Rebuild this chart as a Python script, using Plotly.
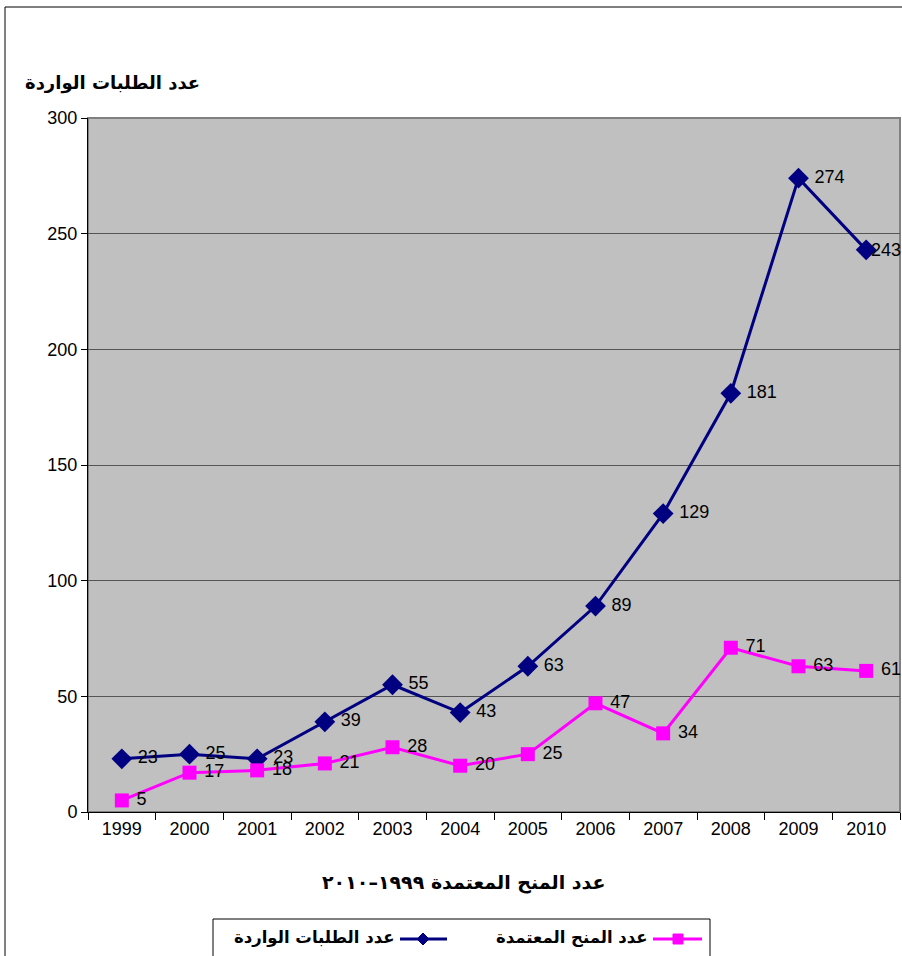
import plotly.graph_objects as go

years = ["1999", "2000", "2001", "2002", "2003", "2004", "2005", "2006", "2007", "2008", "2009", "2010"]
applications = [23, 25, 23, 39, 55, 43, 63, 89, 129, 181, 274, 243]
grants = [5, 17, 18, 21, 28, 20, 25, 47, 34, 71, 63, 61]

name_applications = "عدد الطلبات الواردة"
name_grants = "عدد المنح المعتمدة"
y_title = "عدد الطلبات الواردة"
x_title = "عدد المنح المعتمدة ١٩٩٩–٢٠١٠"

W, H = 902, 956
L, R, T, B = 88, 2, 118, 144
PW, PH = W - L - R, H - T - B

NAVY = "#000080"
PINK = "#FF00FF"
AR_FONT = "DejaVu Sans"
NUM_FONT = "Arial, Liberation Sans, sans-serif"
PAD = "\u00a0"


def px(x):
    return (x - L) / PW


def py(y):
    return (H - B - y) / PH


fig = go.Figure()
fig.add_trace(go.Scatter(
    x=years, y=applications, name=name_applications,
    mode="lines+markers+text",
    text=[PAD + str(v) for v in applications[:-1]] + [""],
    textposition="middle right", cliponaxis=False,
    line=dict(color=NAVY, width=3),
    marker=dict(symbol="diamond", size=16, color=NAVY),
    textfont=dict(family=NUM_FONT, size=18, color="#000000"),
))
fig.add_trace(go.Scatter(
    x=years, y=grants, name=name_grants,
    mode="lines+markers+text", text=[PAD + str(v) for v in grants],
    textposition="middle right", cliponaxis=False,
    line=dict(color=PINK, width=3),
    marker=dict(symbol="square", size=14, color=PINK),
    textfont=dict(family=NUM_FONT, size=18, color="#000000"),
))

shapes = []
# outer chart border
shapes.append(dict(type="rect", xref="paper", yref="paper",
                   x0=px(5), x1=px(W + 20), y0=py(7), y1=py(H + 20),
                   line=dict(color="#000000", width=1), layer="below"))
# plot area border (gray top/right)
shapes.append(dict(type="rect", xref="paper", yref="paper",
                   x0=0, x1=1, y0=0, y1=1,
                   line=dict(color="#808080", width=2), layer="below"))
# legend box
shapes.append(dict(type="rect", xref="paper", yref="paper",
                   x0=px(213), x1=px(710), y0=py(919), y1=py(H + 20),
                   line=dict(color="#000000", width=1), fillcolor="#FFFFFF"))
# legend lines
shapes.append(dict(type="line", xref="paper", yref="paper",
                   x0=px(400), x1=px(447), y0=py(939), y1=py(939),
                   line=dict(color=NAVY, width=3)))
shapes.append(dict(type="line", xref="paper", yref="paper",
                   x0=px(653), x1=px(702), y0=py(939), y1=py(939),
                   line=dict(color=PINK, width=3)))
# legend markers
cx, cy, r = 423, 939, 6
shapes.append(dict(type="path", xref="paper", yref="paper",
                   path=f"M {px(cx)} {py(cy - r)} L {px(cx + r)} {py(cy)} L {px(cx)} {py(cy + r)} L {px(cx - r)} {py(cy)} Z",
                   fillcolor=NAVY, line=dict(color=NAVY, width=1)))
cx, cy, r = 678, 939, 5
shapes.append(dict(type="rect", xref="paper", yref="paper",
                   x0=px(cx - r), x1=px(cx + r), y0=py(cy - r), y1=py(cy + r),
                   fillcolor=PINK, line=dict(color=PINK, width=1)))

annotations = [
    dict(text=str(applications[-1]), x=len(years) - 1, y=applications[-1],
         xref="x", yref="y", xanchor="left", yanchor="middle", xshift=3,
         showarrow=False, font=dict(family=NUM_FONT, size=18, color="#000000")),
    dict(text=f"<b>{y_title}</b>", xref="paper", yref="paper",
         x=px(112), y=py(83), xanchor="center", yanchor="middle", showarrow=False,
         font=dict(family=AR_FONT, size=18, color="#000000")),
    dict(text=f"<b>{x_title}</b>", xref="paper", yref="paper",
         x=px(463), y=py(882), xanchor="center", yanchor="middle", showarrow=False,
         font=dict(family=AR_FONT, size=19, color="#000000")),
    dict(text=f"<b>{name_applications}</b>", xref="paper", yref="paper",
         x=px(397), y=py(938), xanchor="right", yanchor="middle", showarrow=False,
         font=dict(family=AR_FONT, size=16.5, color="#000000")),
    dict(text=f"<b>{name_grants}</b>", xref="paper", yref="paper",
         x=px(650), y=py(938), xanchor="right", yanchor="middle", showarrow=False,
         font=dict(family=AR_FONT, size=16.5, color="#000000")),
]

fig.update_layout(
    width=W, height=H,
    margin=dict(l=L, r=R, t=T, b=B, pad=0),
    paper_bgcolor="#FFFFFF", plot_bgcolor="#C0C0C0",
    showlegend=False,
    shapes=shapes, annotations=annotations,
    font=dict(family=NUM_FONT, size=18, color="#000000"),
)
fig.update_xaxes(
    type="category", tickson="boundaries", ticks="outside", ticklen=7,
    tickcolor="#000000", showline=True, linecolor="#000000", linewidth=1,
    showgrid=False, tickfont=dict(family=NUM_FONT, size=18, color="#000000"),
    range=[-0.5, 11.5], zeroline=False,
)
fig.update_yaxes(
    range=[0, 300], dtick=50, ticks="outside", ticklen=6, tickcolor="#000000",
    showline=True, linecolor="#000000", linewidth=1,
    showgrid=True, gridcolor="#555555", gridwidth=1, zeroline=False,
    tickfont=dict(family=NUM_FONT, size=18, color="#000000"),
)

fig.write_html(
    "out.html",
    config={"displayModeBar": False},
    post_script="document.body.style.margin='0px';document.body.style.overflow='hidden';",
)
